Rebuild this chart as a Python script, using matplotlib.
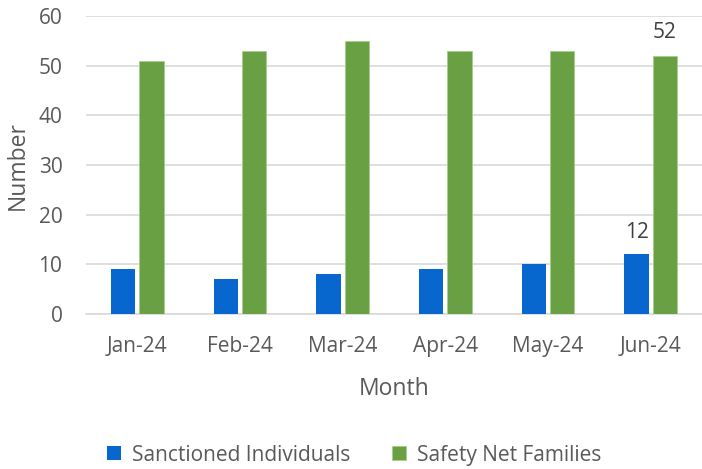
import matplotlib
matplotlib.use("Agg")
import matplotlib.pyplot as plt
import numpy as np

months = ["Jan-24", "Feb-24", "Mar-24", "Apr-24", "May-24", "Jun-24"]
sanctioned = [9, 7, 8, 9, 10, 12]
safety_net = [51, 53, 55, 53, 53, 52]

plt.rcParams["font.family"] = ["Open Sans", "DejaVu Sans"]
TXT = "#595959"

fig = plt.figure(figsize=(7.02, 4.69), dpi=100)
ax = fig.add_axes([86 / 702, 1 - 314 / 469, 616 / 702, 298 / 469])

x = np.arange(len(months))
w = 0.235
off = w / 2 + 0.02
b1 = ax.bar(x - off, sanctioned, w, color="#0866CF", label="Sanctioned Individuals", zorder=3)
b2 = ax.bar(x + off, safety_net, w, color="#68A043", edgecolor="#A8CC8C", linewidth=0.6,
            label="Safety Net Families", zorder=3)

# only the last month is labelled in the original
ax.annotate(str(sanctioned[-1]), (x[-1] - off, sanctioned[-1]), xytext=(0, 8),
            textcoords="offset points", ha="center", va="bottom", fontsize=15, color="#404040")
ax.annotate(str(safety_net[-1]), (x[-1] + off, safety_net[-1]), xytext=(0, 9),
            textcoords="offset points", ha="center", va="bottom", fontsize=15, color="#404040")

ax.set_xlim(-0.5, 5.5)
ax.set_ylim(0, 60)
ax.set_yticks(range(0, 61, 10))
ax.set_xticks(x)
ax.set_xticklabels(months)
ax.grid(axis="y", color="#D9D9D9", linewidth=1.2, zorder=0)
for s in ["top", "right", "left"]:
    ax.spines[s].set_visible(False)
ax.spines["bottom"].set_color("#D9D9D9")
ax.spines["bottom"].set_linewidth(1.2)
ax.tick_params(axis="x", length=0, labelsize=15, colors=TXT, pad=16)
ax.tick_params(axis="y", length=0, labelsize=15, colors=TXT, pad=17)

ax.set_xlabel("Month", fontsize=16.5, color=TXT, labelpad=14)
ax.set_ylabel("Number", fontsize=16.5, color=TXT, labelpad=6)

fig.legend(handles=[b1, b2], loc="center", bbox_to_anchor=(0.505, 1 - 455 / 469), ncol=2,
           frameon=False, fontsize=15, labelcolor=TXT, handlelength=0.65, handleheight=0.65,
           columnspacing=2.0, handletextpad=0.55)

fig.savefig("out.png", dpi=100)
